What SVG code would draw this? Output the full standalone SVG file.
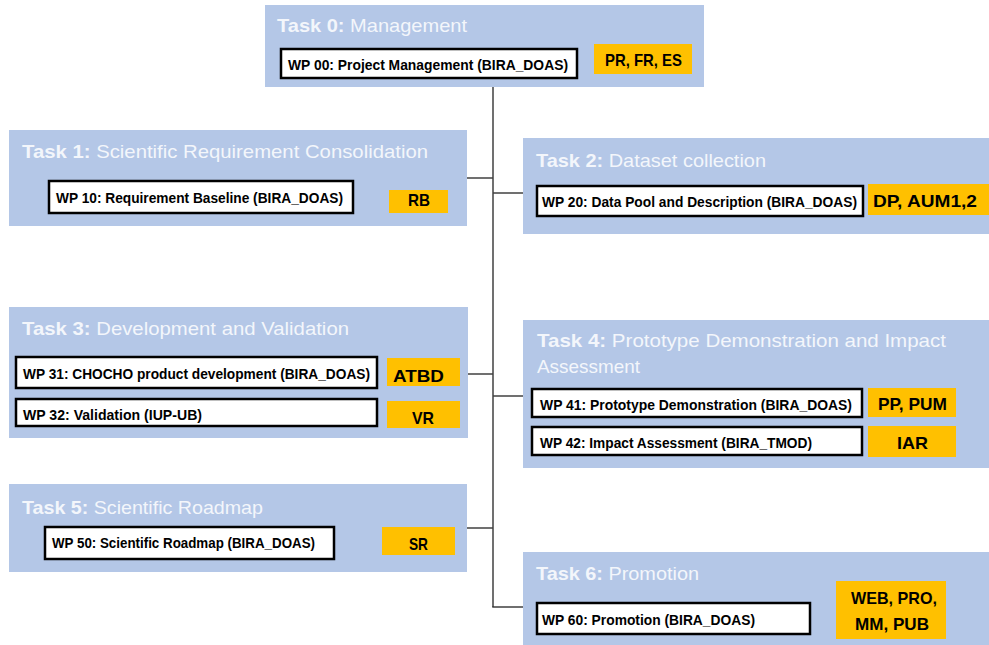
<svg xmlns="http://www.w3.org/2000/svg" width="989" height="645" viewBox="0 0 989 645">
  <style>
    .panel { fill: #B4C7E7; }
    .wp { fill: #FFFFFF; stroke: #000000; stroke-width: 2.5; }
    .dl { fill: #FFC000; }
    .title { font-family: "Liberation Sans", Arial, sans-serif; font-size: 18.5px; fill: #F3F6FB; }
    .title .b { font-weight: bold; }
    .wpt { font-family: "Liberation Sans", Arial, sans-serif; font-size: 14px; font-weight: bold; fill: #000000; }
    .dlt { font-family: "Liberation Sans", Arial, sans-serif; font-size: 17px; font-weight: bold; fill: #000000; }
    .conn { fill: none; stroke: #404040; stroke-width: 1.5; }
  </style>

  <rect width="989" height="645" fill="#FFFFFF"/>

  <!-- tree connectors -->
  <g id="connectors">
    <line class="conn" x1="493" y1="87" x2="493" y2="607"/>
    <line class="conn" x1="467" y1="178" x2="493" y2="178"/>
    <line class="conn" x1="493" y1="193" x2="523" y2="193"/>
    <line class="conn" x1="461" y1="374" x2="493" y2="374"/>
    <line class="conn" x1="493" y1="396" x2="523" y2="396"/>
    <line class="conn" x1="467" y1="528" x2="493" y2="528"/>
    <polyline class="conn" points="493,606 493,607 523,607"/>
  </g>

  <!-- Task 0 -->
  <g id="task0">
    <rect class="panel" x="265" y="5" width="439" height="82"/>
    <text class="title" x="277" y="32" textLength="190" lengthAdjust="spacingAndGlyphs"><tspan class="b">Task 0:</tspan> Management</text>
    <rect class="wp" x="281" y="49" width="296" height="29"/>
    <text class="wpt" x="288" y="70" textLength="280" lengthAdjust="spacingAndGlyphs">WP 00: Project Management (BIRA_DOAS)</text>
    <rect class="dl" x="594" y="44" width="98" height="30"/>
    <text class="dlt" x="605" y="66" textLength="77" lengthAdjust="spacingAndGlyphs">PR, FR, ES</text>
  </g>

  <!-- Task 1 -->
  <g id="task1">
    <rect class="panel" x="9" y="130" width="458" height="96"/>
    <text class="title" x="22" y="158" textLength="406" lengthAdjust="spacingAndGlyphs"><tspan class="b">Task 1:</tspan> Scientific Requirement Consolidation</text>
    <rect class="wp" x="49" y="181" width="304" height="32"/>
    <text class="wpt" x="56" y="203" textLength="287" lengthAdjust="spacingAndGlyphs">WP 10: Requirement Baseline (BIRA_DOAS)</text>
    <rect class="dl" x="389" y="190" width="59" height="23"/>
    <text class="dlt" x="408" y="206" textLength="22" lengthAdjust="spacingAndGlyphs">RB</text>
  </g>

  <!-- Task 2 -->
  <g id="task2">
    <rect class="panel" x="523" y="138" width="466" height="96"/>
    <text class="title" x="536" y="167" textLength="230" lengthAdjust="spacingAndGlyphs"><tspan class="b">Task 2:</tspan> Dataset collection</text>
    <rect class="wp" x="537" y="186" width="326" height="30"/>
    <text class="wpt" x="542" y="207" textLength="315" lengthAdjust="spacingAndGlyphs">WP 20: Data Pool and Description (BIRA_DOAS)</text>
    <rect class="dl" x="868" y="184" width="121" height="31"/>
    <text class="dlt" x="873" y="207" textLength="104" lengthAdjust="spacingAndGlyphs">DP, AUM1,2</text>
  </g>

  <!-- Task 3 -->
  <g id="task3">
    <rect class="panel" x="9" y="307" width="459" height="131"/>
    <text class="title" x="22" y="335" textLength="327" lengthAdjust="spacingAndGlyphs"><tspan class="b">Task 3:</tspan> Development and Validation</text>
    <rect class="wp" x="16" y="357" width="361" height="31"/>
    <text class="wpt" x="23" y="379" textLength="347" lengthAdjust="spacingAndGlyphs">WP 31: CHOCHO product development (BIRA_DOAS)</text>
    <rect class="dl" x="387" y="358" width="73" height="28"/>
    <text class="dlt" x="393" y="382" textLength="51" lengthAdjust="spacingAndGlyphs">ATBD</text>
    <rect class="wp" x="16" y="399" width="361" height="27"/>
    <text class="wpt" x="23" y="420" textLength="179" lengthAdjust="spacingAndGlyphs">WP 32: Validation (IUP-UB)</text>
    <rect class="dl" x="387" y="401" width="73" height="27"/>
    <text class="dlt" x="412" y="424" textLength="22" lengthAdjust="spacingAndGlyphs">VR</text>
  </g>

  <!-- Task 4 -->
  <g id="task4">
    <rect class="panel" x="523" y="320" width="466" height="148"/>
    <text class="title" x="537" y="347" textLength="409" lengthAdjust="spacingAndGlyphs"><tspan class="b">Task 4:</tspan> Prototype Demonstration and Impact</text>
    <text class="title" x="537" y="373" textLength="103" lengthAdjust="spacingAndGlyphs">Assessment</text>
    <rect class="wp" x="532" y="389" width="330" height="28"/>
    <text class="wpt" x="540" y="410" textLength="312" lengthAdjust="spacingAndGlyphs">WP 41: Prototype Demonstration (BIRA_DOAS)</text>
    <rect class="dl" x="868" y="388" width="88" height="29"/>
    <text class="dlt" x="878" y="410" textLength="69" lengthAdjust="spacingAndGlyphs">PP, PUM</text>
    <rect class="wp" x="532" y="427" width="330" height="28"/>
    <text class="wpt" x="540" y="448" textLength="272" lengthAdjust="spacingAndGlyphs">WP 42: Impact Assessment (BIRA_TMOD)</text>
    <rect class="dl" x="868" y="426" width="88" height="31"/>
    <text class="dlt" x="897" y="449" textLength="31" lengthAdjust="spacingAndGlyphs">IAR</text>
  </g>

  <!-- Task 5 -->
  <g id="task5">
    <rect class="panel" x="9" y="484" width="458" height="88"/>
    <text class="title" x="22" y="514" textLength="241" lengthAdjust="spacingAndGlyphs"><tspan class="b">Task 5:</tspan> Scientific Roadmap</text>
    <rect class="wp" x="45" y="527" width="289" height="32"/>
    <text class="wpt" x="52" y="548" textLength="263" lengthAdjust="spacingAndGlyphs">WP 50: Scientific Roadmap (BIRA_DOAS)</text>
    <rect class="dl" x="382" y="527" width="73" height="28"/>
    <text class="dlt" x="409" y="550" textLength="19" lengthAdjust="spacingAndGlyphs">SR</text>
  </g>

  <!-- Task 6 -->
  <g id="task6">
    <rect class="panel" x="523" y="552" width="466" height="93"/>
    <text class="title" x="536" y="580" textLength="163" lengthAdjust="spacingAndGlyphs"><tspan class="b">Task 6:</tspan> Promotion</text>
    <rect class="wp" x="537" y="603" width="273" height="31"/>
    <text class="wpt" x="542" y="625" textLength="213" lengthAdjust="spacingAndGlyphs">WP 60: Promotion (BIRA_DOAS)</text>
    <rect class="dl" x="836" y="581" width="110" height="58"/>
    <text class="dlt" x="851" y="604" textLength="86" lengthAdjust="spacingAndGlyphs">WEB, PRO,</text>
    <text class="dlt" x="855" y="630" textLength="74" lengthAdjust="spacingAndGlyphs">MM, PUB</text>
  </g>
</svg>
